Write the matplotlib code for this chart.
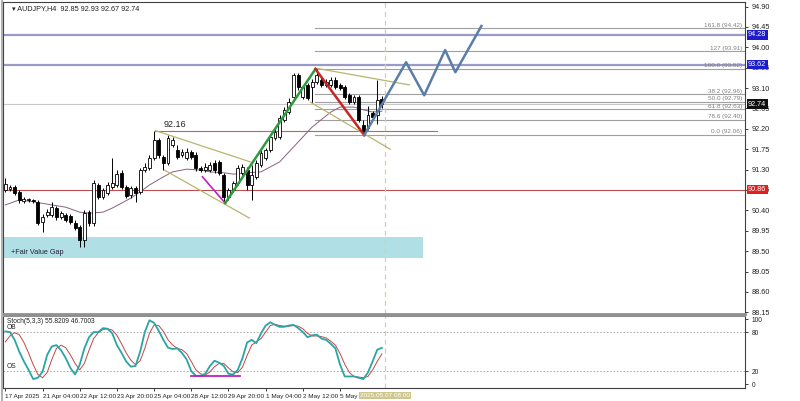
import numpy as np
import matplotlib
matplotlib.use("Agg")
import matplotlib.pyplot as plt
import matplotlib.transforms as mtransforms

plt.rcParams["font.family"] = ["Liberation Sans", "DejaVu Sans"]

# ----------------------
# data (AUDJPY H4)
# ----------------------
opens = [90.85, 90.87, 90.92, 90.81, 90.61, 90.63, 90.63, 90.59, 90.14, 90.30,
         90.30, 90.45, 90.25, 90.30, 90.28, 90.12, 90.03, 89.75, 90.36, 90.12,
         90.96, 90.70, 90.78, 90.92, 90.96, 91.23, 90.92, 90.74, 90.89, 90.81,
         91.29, 91.34, 91.56, 91.95, 91.58, 91.45, 91.84, 91.73, 91.62, 91.56,
         91.69, 91.62, 91.34, 91.29, 91.29, 91.45, 91.47, 91.18, 90.70, 90.85,
         91.00, 91.23, 91.29, 90.96, 91.14, 91.40, 91.56, 91.73, 91.99, 92.02,
         92.39, 92.57, 92.90, 93.39, 92.90, 93.17, 93.12, 93.23, 93.28, 93.17,
         93.17, 93.28, 93.17, 93.12, 92.95, 92.79, 92.90, 92.29, 92.22, 92.55,
         92.51, 92.85]
highs = [91.11, 90.96, 90.96, 90.85, 90.70, 90.67, 90.65, 90.63, 90.32, 90.43,
         90.59, 90.50, 90.39, 90.34, 90.32, 90.19, 90.08, 90.41, 90.41, 91.07,
         91.00, 90.89, 91.03, 91.56, 91.29, 91.29, 90.96, 90.94, 90.94, 91.34,
         91.45, 91.62, 92.16, 91.99, 91.62, 92.06, 92.02, 91.84, 91.75, 91.78,
         91.73, 91.69, 91.38, 91.45, 91.47, 91.51, 91.51, 91.23, 90.89, 91.05,
         91.40, 91.42, 91.36, 91.40, 91.51, 91.73, 91.78, 92.09, 92.22, 92.51,
         92.68, 92.88, 93.43, 93.43, 93.17, 93.21, 93.30, 93.52, 93.37, 93.30,
         93.34, 93.34, 93.21, 93.17, 92.99, 92.95, 92.95, 92.39, 92.70, 92.59,
         93.28, 92.93]
lows = [90.81, 90.83, 90.74, 90.56, 90.56, 90.59, 90.56, 90.08, 89.92, 90.25,
        90.25, 90.19, 90.21, 90.14, 90.10, 89.97, 89.59, 89.59, 90.05, 90.05,
        90.65, 90.65, 90.74, 90.87, 90.92, 90.87, 90.67, 90.67, 90.59, 90.76,
        91.25, 91.29, 91.51, 91.56, 91.29, 91.40, 91.80, 91.53, 91.58, 91.51,
        91.53, 91.27, 91.25, 91.25, 91.25, 91.23, 91.18, 90.56, 90.63, 90.81,
        90.96, 91.18, 90.85, 90.63, 91.09, 91.36, 91.51, 91.69, 91.95, 91.98,
        92.35, 92.53, 92.86, 93.06, 92.86, 92.84, 92.77, 93.19, 93.12, 93.12,
        93.12, 93.08, 93.06, 92.86, 92.75, 92.75, 92.35, 92.06, 92.17, 92.42,
        92.31, 92.67]
closes = [90.98, 90.92, 90.78, 90.63, 90.65, 90.64, 90.61, 90.12, 90.25, 90.36,
          90.47, 90.25, 90.34, 90.19, 90.14, 90.01, 89.75, 90.34, 90.12, 91.00,
          90.70, 90.85, 90.96, 91.00, 91.20, 90.92, 90.72, 90.89, 90.78, 91.29,
          91.36, 91.56, 91.95, 91.62, 91.45, 91.99, 91.95, 91.58, 91.69, 91.69,
          91.58, 91.34, 91.29, 91.36, 91.40, 91.29, 91.23, 90.70, 90.85, 91.00,
          91.34, 91.36, 90.96, 91.18, 91.45, 91.67, 91.73, 92.02, 92.13, 92.44,
          92.62, 92.79, 93.39, 93.12, 93.12, 92.88, 93.23, 93.39, 93.17, 93.23,
          93.28, 93.12, 93.10, 92.90, 92.79, 92.90, 92.39, 92.13, 92.51, 92.46,
          92.84, 92.74]

# moving average, read at some bars
ma_bars = [0, 3, 6, 10, 13, 16, 18, 21, 23, 25, 27, 29, 31, 34, 36, 39, 42, 44,
           47, 49, 52, 55, 59, 62, 66, 70, 72, 75, 77, 79, 81]
ma_vals = [90.52, 90.63, 90.59, 90.52, 90.47, 90.36, 90.34, 90.36, 90.45, 90.56,
           90.67, 90.81, 90.96, 91.14, 91.25, 91.31, 91.29, 91.25, 91.23, 91.20,
           91.23, 91.25, 91.47, 91.80, 92.24, 92.57, 92.68, 92.68, 92.62, 92.57,
           92.59]

# stochastic (5,3,3)
stoch_main = [81, 80, 68, 50, 35, 22, 8, 10, 19, 45, 58, 60, 52, 40, 25, 15, 30,
              55, 72, 80, 80, 86, 85, 78, 60, 48, 35, 27, 28, 50, 80, 98, 94, 82,
              68, 56, 54, 55, 48, 38, 20, 13, 13, 16, 28, 36, 33, 28, 16, 15, 22,
              40, 64, 68, 63, 78, 90, 95, 91, 88, 88, 90, 91, 86, 80, 72, 75, 76,
              70, 68, 62, 55, 30, 12, 12, 12, 10, 8, 18, 35, 53, 55.8]
stoch_signal = [65, 74, 79, 76, 64, 48, 30, 15, 10, 18, 38, 55, 60, 56, 45, 32,
                22, 32, 52, 70, 79, 84, 85, 83, 75, 62, 48, 37, 30, 36, 55, 78,
                91, 90, 81, 68, 60, 55, 53, 47, 35, 22, 16, 14, 19, 27, 32, 32,
                25, 19, 18, 26, 44, 60, 65, 70, 80, 90, 92, 90, 89, 89, 90, 89,
                85, 78, 74, 74, 73, 71, 66, 60, 47, 31, 18, 12, 11, 10, 12, 22,
                35, 46.7]

price_ticks = [94.90, 94.45, 94.00, 93.55, 93.10, 92.65, 92.20, 91.75, 91.30,
               90.85, 90.40, 89.95, 89.50, 89.05, 88.60, 88.15]
time_bars = [0, 8, 16, 24, 32, 40, 48, 56, 64, 72]
time_labels = ["17 Apr 2025", "21 Apr 04:00", "22 Apr 12:00", "23 Apr 20:00",
               "25 Apr 04:00", "28 Apr 12:00", "29 Apr 20:00", "1 May 04:00",
               "2 May 12:00", "5 May 20:00"]

fib_names = ["161.8", "127", "100.0", "38.2", "50.0", "61.8", "78.6", "0.0"]
fib_prices = [94.42, 93.91, 93.52, 92.96, 92.79, 92.63, 92.40, 92.06]

# drawn objects (bar index, price)
flag1_upper = ([32.3, 52.7], [92.16, 91.47])
flag1_lower = ([34.2, 52.5], [91.29, 90.23])
flag2_upper = ([66.7, 86.9], [93.54, 93.17])
flag2_lower = ([65.6, 82.8], [92.79, 91.75])
purple_leg = ([42.4, 47.3], [91.14, 90.56])
green_leg = ([47.3, 66.7], [90.56, 93.52])
red_leg = ([66.7, 77.2], [93.52, 92.06])
proj_bars = [77.2, 86.2, 90.1, 94.6, 96.8, 102.4]
proj_prices = [92.06, 93.67, 92.94, 93.94, 93.45, 94.47]

fvg_top, fvg_bottom, fvg_end = 89.81, 89.35, 89.9
now_bar = 81.7

# ----------------------
# figure
# ----------------------
W, H = 800, 401
fig = plt.figure(figsize=(W / 100, H / 100), dpi=100)
fig.patch.set_facecolor("white")
FS = 5.2

ax = fig.add_axes([3 / W, 87 / H, 742 / W, 312 / H])
sx = fig.add_axes([3 / W, 13 / H, 742 / W, 72 / H], sharex=ax)

XMIN, XMAX = -0.5, 159.1
ax.set_xlim(XMIN, XMAX)
ax.set_ylim(88.112, 95.0)

n = len(closes)
idx = np.arange(n)

# FVG zone
ax.fill_between([XMIN, fvg_end], fvg_bottom, fvg_top, color="#b0dfe5", lw=0, zorder=0)
ax.text(1.3, 89.46, "+Fair Value Gap", fontsize=FS, color="#202040", va="center", zorder=1)

# horizontal lines
ax.axhline(94.28, color="#9a9ac8", lw=1.6, zorder=1)
ax.axhline(93.62, color="#9a9ac8", lw=1.6, zorder=1)
ax.axhline(90.86, color="#b85050", lw=0.8, zorder=1)
ax.axhline(92.74, color="#c8c8c8", lw=0.8, zorder=1)
ax.plot([32.3, 92.9], [92.16, 92.16], color="#c86060", lw=0.8, zorder=1)
ax.text(34.0, 92.20, "92.16", fontsize=6.5, color="#202020", va="bottom")

# fibonacci levels
for name, p in zip(fib_names, fib_prices):
    ax.plot([66.7, XMAX], [p, p], color="#a0a0a0", lw=0.8, zorder=1)
    ax.text(XMAX - 0.6, p + 0.015, f"{name} ({p:.2f})", fontsize=4.6,
            color="#808080", ha="right", va="bottom")

# now line
for a in (ax, sx):
    a.axvline(now_bar, color="#d8cfa8", lw=0.9, ls=(0, (4, 3)), zorder=1)

# moving average
ax.plot(ma_bars, ma_vals, color="#8a6080", lw=0.7, zorder=2)

# candles
o = np.array(opens); c = np.array(closes)
ax.vlines(idx, lows, highs, color="black", lw=0.7, zorder=3)
up = c >= o
body_lo = np.minimum(o, c)
body_h = np.maximum(np.abs(c - o), 0.012)
ax.bar(idx[up], body_h[up], bottom=body_lo[up], width=0.62, color="white",
       edgecolor="black", lw=0.6, zorder=4)
ax.bar(idx[~up], body_h[~up], bottom=body_lo[~up], width=0.62, color="black",
       edgecolor="black", lw=0.6, zorder=4)

# drawings
for seg in (flag1_upper, flag1_lower, flag2_upper, flag2_lower):
    ax.plot(*seg, color="#b9b46e", lw=0.9, zorder=5)
ax.plot(*purple_leg, color="#c020c0", lw=1.2, zorder=5)
ax.plot(*green_leg, color="#2e9a3e", lw=1.8, zorder=5)
ax.plot(*red_leg, color="#cc2424", lw=1.8, zorder=5)
ax.plot(proj_bars, proj_prices, color="#5a7ea8", lw=1.8, zorder=5)

# header
ax.text(0.012, 0.99, "\u25BE AUDJPY,H4  92.85 92.93 92.67 92.74", transform=ax.transAxes,
        fontsize=FS, va="top", ha="left", color="#202020")

# price axis
ax.yaxis.tick_right()
ax.set_yticks(price_ticks)
ax.set_yticklabels([f"{p:.2f}" for p in price_ticks])
ax.tick_params(axis="y", direction="out", length=2.5, width=0.6, pad=2,
               labelsize=FS, colors="#202020")
ax.tick_params(axis="x", bottom=False, labelbottom=False)

trans = mtransforms.blended_transform_factory(ax.transAxes, ax.transData)
for p, fc in [(94.28, "#1c1ccc"), (93.62, "#1c1ccc"), (92.74, "#101010"), (90.86, "#e02020")]:
    ax.text(1.004, p, f"{p:.2f}", transform=trans, fontsize=FS, color="white",
            va="center", ha="left", zorder=10, clip_on=False,
            bbox=dict(boxstyle="square,pad=0.2", fc=fc, ec="none"))

for s in ax.spines.values():
    s.set_color("#404040"); s.set_linewidth(0.8)
ax.spines["bottom"].set_color("#909090"); ax.spines["bottom"].set_linewidth(2.0)

# ----------------------
# stochastic window
# ----------------------
sx.set_ylim(-5.7, 104.6)
sx.plot(idx, stoch_signal, color="#c04848", lw=0.7, zorder=3)
sx.plot(idx, stoch_main, color="#2aa5a5", lw=1.3, zorder=4)
sx.axhline(80, color="#a0a0a0", lw=0.6, ls=(0, (2, 2)))
sx.axhline(20, color="#a0a0a0", lw=0.6, ls=(0, (2, 2)))
sx.plot([40, 50.4], [12.7, 12.7], color="#c020c0", lw=1.3, zorder=5)
sx.text(0.4, 101, "Stoch(5,3,3) 55.8209 46.7003", fontsize=4.8, va="top", color="#202020")
sx.text(0.2, 82, "OB", fontsize=4.8, va="bottom", color="#202020")
sx.text(0.2, 22, "OS", fontsize=4.8, va="bottom", color="#202020")

sx.yaxis.tick_right()
sx.set_yticks([100, 80, 20, 0])
sx.tick_params(axis="y", direction="out", length=2.5, width=0.6, pad=2,
               labelsize=4.8, colors="#202020")
sx.set_xticks(time_bars)
sx.set_xticklabels(time_labels, ha="left")
sx.tick_params(axis="x", direction="out", length=2.5, width=0.6, pad=1.5,
               labelsize=4.6, colors="#202020")
for s in sx.spines.values():
    s.set_color("#404040"); s.set_linewidth(0.8)
sx.spines["top"].set_color("#909090"); sx.spines["top"].set_linewidth(1.5)

sx.text(now_bar, -0.07, "2025.05.07 08:00", transform=mtransforms.blended_transform_factory(
    sx.transData, sx.transAxes), fontsize=4.6, color="white", ha="center", va="top",
    zorder=10, clip_on=False, bbox=dict(boxstyle="square,pad=0.15", fc="#cfc78e", ec="none"))

# window border on the left
fig.add_artist(plt.Line2D([1.5 / W, 1.5 / W], [0, 1], color="#b0b0b0", lw=1.5))

fig.savefig("out.png", dpi=100)
